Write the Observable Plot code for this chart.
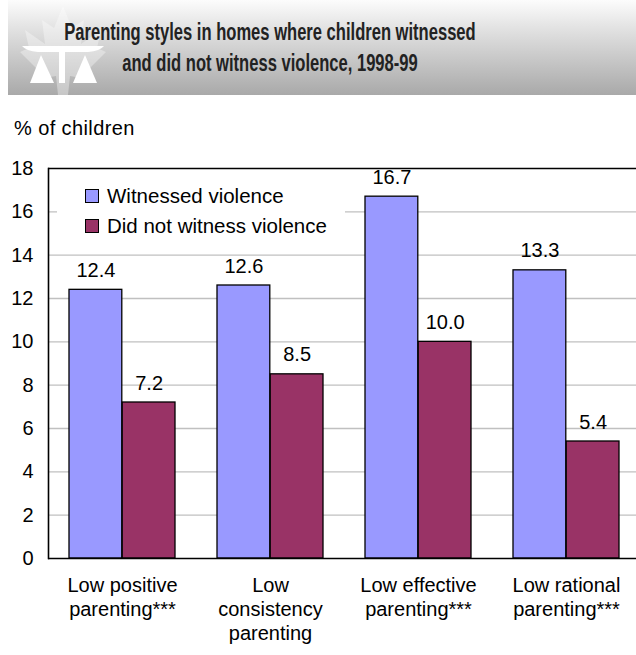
<!DOCTYPE html>
<html><head><meta charset="utf-8">
<script src="https://cdn.jsdelivr.net/npm/d3@7"></script>
<script src="https://cdn.jsdelivr.net/npm/@observablehq/plot@0.6"></script>
<style>
html,body{margin:0;padding:0}
body{width:636px;height:655px;overflow:hidden;background:#fff;position:relative;font-family:"Liberation Sans",Arial,sans-serif;color:#000}
#chart{position:absolute;left:0;top:0;width:636px;height:655px;overflow:hidden}
#chart svg{max-width:none !important}
#banner{position:absolute;left:8px;top:0;width:628px;height:95px;background:linear-gradient(#fcfcfc,#e2e2e2 30%,#a9a9a9);z-index:2;overflow:hidden}
#banner svg{position:absolute;left:0;top:0}
#title{position:absolute;left:-138px;top:17px;width:800px;white-space:nowrap;text-align:center;font-family:"Liberation Sans",Arial,sans-serif;font-weight:bold;font-size:23px;line-height:31px;color:#222;transform:scaleX(0.72);transform-origin:400px 0}
#ylabel{position:absolute;left:14px;top:117px;font-size:20px;letter-spacing:0.4px;z-index:2}
#legend{position:absolute;left:57px;top:172px;width:288px;height:78px;background:#fff;z-index:2}
.item{position:absolute;left:28px;white-space:nowrap;font-size:20.5px;line-height:20px}
.sw{position:absolute;left:0;top:3px;width:12px;height:12px;border:1.5px solid #000}
.item span.t{position:absolute;left:22px;top:0}
</style></head><body>
<div id="chart"></div>
<div id="banner">
  <svg width="120" height="95" viewBox="0 0 120 95">
    <polygon points="55,6 64,28 76,20 73,44 93,30 89,48 98,52 80,70 84,80 62,76 60,95 50,95 48,76 26,80 30,70 12,52 21,48 17,30 37,44 34,20 46,28" fill="#ffffff" fill-opacity="0.35"/>
    <path d="M14,46 L96,46 Q92,51 80,52 L30,52 Q18,51 14,46 Z" fill="#fff"/>
    <rect x="51" y="50" width="6" height="33" fill="#fff"/>
    <polygon points="33,55 22,83 46,83" fill="#fff"/>
    <polygon points="77,55 65,83 89,83" fill="#fff"/>
  </svg>
  <div id="title">Parenting styles in homes where children witnessed<br>and did not witness violence, 1998-99</div>
</div>
<div id="ylabel">% of children</div>
<div id="legend"></div>
<script>
const categories = ["Low positive parenting***", "Low consistency parenting", "Low effective parenting***", "Low rational parenting***"];
const categoryLines = [["Low positive", "parenting***"], ["Low", "consistency", "parenting"], ["Low effective", "parenting***"], ["Low rational", "parenting***"]];
const series = ["Witnessed violence", "Did not witness violence"];
const witnessed = [12.4, 12.6, 16.7, 13.3];
const notWitnessed = [7.2, 8.5, 10.0, 5.4];
const yTicks = [0, 2, 4, 6, 8, 10, 12, 14, 16, 18];
const colors = ["#9999ff", "#993366"];

const rowsW = categories.map((c, i) => ({category: c, series: series[0], value: witnessed[i]}));
const rowsN = categories.map((c, i) => ({category: c, series: series[1], value: notWitnessed[i]}));

const W = 700, ML = 48, MR = 59, PI = 0.282, PO = 0.1416;
const step = (W - ML - MR) / (categories.length - PI + 2 * PO);
const bw = step * (1 - PI);
const half = bw / 2;

const chart = Plot.plot({
  width: W, height: 655,
  marginTop: 168, marginBottom: 97, marginLeft: ML, marginRight: MR,
  style: {fontFamily: "'Liberation Sans', Arial, sans-serif", color: "#000", background: "transparent"},
  x: {domain: categories, paddingInner: PI, paddingOuter: PO, label: null},
  y: {domain: [0, 18], label: null},
  marks: [
    Plot.gridY(yTicks.filter(t => t > 0 && t < 18), {stroke: "#c0c0c0", strokeOpacity: 1, strokeWidth: 1.4}),
    Plot.barY(rowsW, {x: "category", y: "value", fill: colors[0], stroke: "#000", strokeWidth: 1.3, insetRight: half}),
    Plot.barY(rowsN, {x: "category", y: "value", fill: colors[1], stroke: "#000", strokeWidth: 1.3, insetLeft: half}),
    Plot.text(rowsW, {x: "category", y: "value", text: d => d.value.toFixed(1), dx: -half / 2, dy: -13, lineAnchor: "bottom", fontSize: 20}),
    Plot.text(rowsN, {x: "category", y: "value", text: d => d.value.toFixed(1), dx: half / 2, dy: -13, lineAnchor: "bottom", fontSize: 20}),
    Plot.gridY([yTicks[0], yTicks[yTicks.length - 1]], {stroke: "#000", strokeOpacity: 1, strokeWidth: 1.6}),
    Plot.frame({anchor: "left", stroke: "#000", strokeWidth: 1.6}),
    Plot.axisY({ticks: yTicks, tickSize: 0, tickPadding: 15, fontSize: 20, label: null}),
    Plot.axisX({tickSize: 0, tickPadding: 16, fontSize: 20, lineHeight: 1.2, label: null,
      tickFormat: c => categoryLines[categories.indexOf(c)].join("\n")})
  ]
});
chart.style.maxWidth = "none";
document.getElementById("chart").appendChild(chart);

const legend = document.getElementById("legend");
series.forEach((s, i) => {
  const item = document.createElement("div");
  item.className = "item";
  item.style.top = (14 + i * 30) + "px";
  const sw = document.createElement("div");
  sw.className = "sw";
  sw.style.background = colors[i];
  const t = document.createElement("span");
  t.className = "t";
  t.textContent = s;
  item.appendChild(sw); item.appendChild(t);
  legend.appendChild(item);
});
</script>
</body></html>
